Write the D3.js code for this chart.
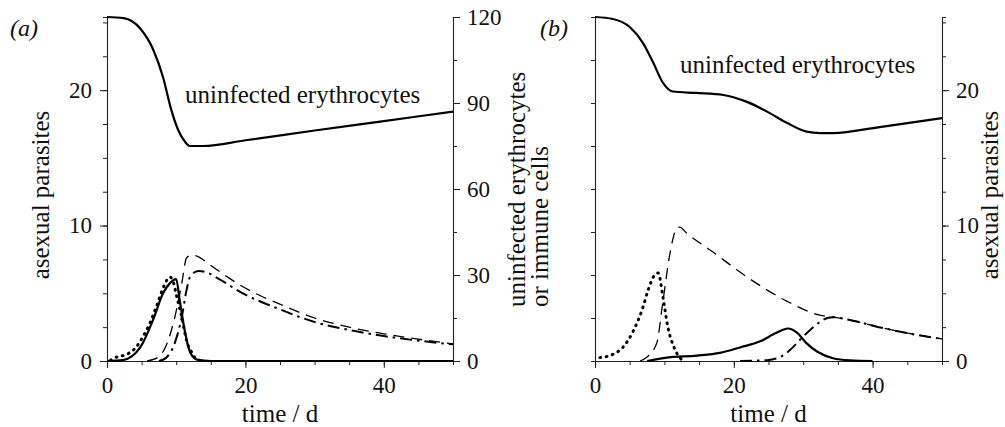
<!DOCTYPE html>
<html>
<head>
<meta charset="utf-8">
<style>
  body { margin: 0; background: #fff; }
</style>
</head>
<body>
<div id="chart"></div>
<script src="https://d3js.org/d3.v7.min.js"></script>
<script>
// panel (a) data: time in days
const aEryT   = [0, 2.4, 4.8, 6.7, 8.1, 9.3, 10.3, 11.3, 12, 13.9, 20, 30, 40, 50];
const aEry    = [120, 119.6, 116, 108.5, 99, 87.5, 80.5, 76.4, 75, 75, 77, 80.4, 83.7, 87];
const aSolidT = [0, 2.3, 4.8, 6.7, 8.1, 9.1, 10, 10.5, 11.3, 12, 13, 15, 50];
const aSolid  = [0, 0.07, 1.0, 3.1, 5.0, 5.75, 6.05, 4.5, 2.07, 0.66, 0.1, 0, 0];
const aDotT   = [0.5, 1.2, 2.9, 4, 5.2, 6.2, 7.2, 8.2, 9.1, 9.6, 10.1, 10.8, 11.5, 12.3, 13, 14];
const aDot    = [0.05, 0.25, 0.5, 0.9, 1.8, 2.8, 4.1, 5.5, 6.2, 5.8, 4.7, 3.25, 1.5, 0.6, 0.1, 0];
const aDashT  = [5.8, 7.5, 8.7, 9.8, 10.8, 11.5, 12.3, 13, 14.9, 17, 19.2, 22.4, 25.3, 30, 35, 40, 45, 50];
const aDash   = [0, 1.5, 6.3, 15.3, 27, 36, 37, 36.6, 33.5, 30, 26.5, 22.5, 19.5, 15, 11.8, 9.5, 7.6, 6];
const aDdT    = [7.5, 8.5, 9.8, 10.8, 11.5, 12, 13.2, 14.5, 15.9, 19.7, 24.5, 30, 35, 40, 45, 50];
const aDd     = [0, 1, 6.3, 15.3, 24.8, 29.3, 31.4, 30.8, 29, 23.5, 18.5, 13.6, 10.8, 8.7, 7.1, 5.8];

// panel (b) data
const bEryT   = [0, 2.6, 5, 6.9, 8.4, 9.8, 11.2, 14.6, 18.5, 21.9, 24.8, 27.7, 30.5, 32.4, 34.3, 41, 50];
const bEry    = [120, 119.3, 116.5, 111, 104, 97, 94, 93.5, 92.8, 90.4, 87, 83, 80, 79.5, 79.5, 81.6, 84.7];
const bDotT   = [0.7, 2.6, 4, 5.5, 6.8, 7.7, 8.4, 9.1, 9.8, 10.5, 11.4, 12.2, 13];
const bDot    = [0.25, 0.5, 1.0, 2.2, 3.8, 5.3, 6.2, 6.5, 4.7, 2.5, 1.0, 0.25, 0];
const bDashT  = [6.5, 7.5, 8.9, 9.8, 10.8, 11.8, 12.2, 13.2, 17, 21.9, 27.7, 32.4, 34.3, 36.7, 41.5, 46.4, 50];
const bDash   = [0, 1.4, 6.3, 21, 37.5, 46.4, 46.7, 44.6, 38, 29.3, 20.8, 16, 15.3, 14.3, 11.5, 9.1, 7.7];
const bSolidT = [7.5, 10.4, 14.7, 18, 20.9, 23.8, 26.2, 27.8, 29.1, 30.5, 32, 34.3, 36.7, 40];
const bSolid  = [0, 0.25, 0.4, 0.6, 1.0, 1.45, 2.1, 2.4, 2.1, 1.3, 0.7, 0.2, 0.05, 0];
const bDdT    = [20.9, 24.8, 26.7, 28.1, 29.5, 31, 32.4, 33.6, 34.3, 36.7, 41.5, 46.4, 50];
const bDd     = [0, 0.3, 1.4, 3.8, 7.3, 10.8, 13.6, 15.1, 15.3, 14.3, 11.5, 9.1, 7.7];

// ticks
const timeTicks = [0, 20, 40];
const timeMinor = [0, 5, 10, 15, 20, 25, 30, 35, 40, 45, 50];
const parTicks  = [0, 10, 20];
const parMinor  = [0, 2.5, 5, 7.5, 10, 12.5, 15, 17.5, 20, 22.5, 25];
const cellTicks = [0, 30, 60, 90, 120];
const cellMinor = [0, 15, 30, 45, 60, 75, 90, 105, 120];

const FONT = '"Liberation Serif", "Times New Roman", Times, "DejaVu Serif", serif';
const W = 1005, H = 427;
const svg = d3.select('#chart').append('svg').attr('width', W).attr('height', H);

const yTop = 17, yBot = 361;
const yPar  = d3.scaleLinear().domain([0, 25.4]).range([yBot, yTop]);
const yCell = d3.scaleLinear().domain([0, 120]).range([yBot, yTop]);

const styles = {
  solid:  { w: 2.2, dash: null, cap: 'butt' },
  dot:    { w: 3, dash: '0.8,5.6', cap: 'round' },
  dash:   { w: 1.3, dash: '11,7', cap: 'butt' },
  dd:     { w: 2.0, dash: '12,5,2.5,5', cap: 'butt' }
};

function zip(t, v) { return t.map((d, i) => [d, v[i]]); }

function drawLine(g, x, y, t, v, st) {
  const line = d3.line().x(d => x(d[0])).y(d => y(d[1])).curve(d3.curveMonotoneX);
  g.append('path').datum(zip(t, v))
    .attr('d', line)
    .attr('fill', 'none')
    .attr('stroke', '#000')
    .attr('stroke-width', st.w)
    .attr('stroke-dasharray', st.dash)
    .attr('stroke-linecap', st.cap)
    .attr('stroke-linejoin', 'round');
}

function axisPair(g, axisFn, scale, minor, major, fmt, pad) {
  const gm = g.append('g').call(axisFn(scale).tickValues(minor).tickSize(4).tickFormat(''));
  const gM = g.append('g').call(axisFn(scale).tickValues(major).tickSize(7).tickPadding(pad).tickFormat(fmt));
  gM.select('.domain').remove();
  [gm, gM].forEach(s => {
    s.attr('font-family', null);
    s.select('.domain').attr('stroke', '#222').attr('stroke-width', 1.1);
    s.selectAll('.tick line').attr('stroke', '#222').attr('stroke-width', 1);
    s.selectAll('.tick text').style('font-size', '23px').attr('fill', '#111');
  });
}

function panel(x0, x1) {
  const x = d3.scaleLinear().domain([0, 50]).range([x0, x1]);
  const g = svg.append('g');
  const gx = g.append('g').attr('transform', `translate(0,${yBot})`);
  axisPair(gx, d3.axisBottom, x, timeMinor, timeTicks, d3.format('d'), 9);
  g.append('text').attr('x', (x0 + x1) / 2).attr('y', 422)
    .attr('text-anchor', 'middle').style('font-size', '25px').text('time / d');
  return { x, g };
}

// ---- panel (a)
const pa = panel(107, 453);
axisPair(pa.g.append('g').attr('transform', 'translate(107,0)'), d3.axisLeft, yPar, parMinor, parTicks, d3.format('d'), 8);
axisPair(pa.g.append('g').attr('transform', 'translate(453,0)'), d3.axisRight, yCell, cellMinor, cellTicks, d3.format('d'), 7);

drawLine(pa.g, pa.x, yCell, aEryT, aEry, styles.solid);
drawLine(pa.g, pa.x, yPar, aDotT, aDot, styles.dot);
drawLine(pa.g, pa.x, yPar, aSolidT, aSolid, styles.solid);
drawLine(pa.g, pa.x, yCell, aDashT, aDash, styles.dash);
drawLine(pa.g, pa.x, yCell, aDdT, aDd, styles.dd);

pa.g.append('text').attr('x', 185).attr('y', 103).style('font-size', '25px').text('uninfected erythrocytes');
svg.append('text').attr('x', 10).attr('y', 36).style('font-size', '24px').style('font-style', 'italic').text('(a)');
svg.append('text').attr('transform', 'translate(49,195) rotate(-90)').attr('text-anchor', 'middle')
  .style('font-size', '25px').text('asexual parasites');
svg.append('text').attr('transform', 'translate(525,307) rotate(-90)')
  .style('font-size', '25px').text('uninfected erythrocytes');
svg.append('text').attr('transform', 'translate(548,307) rotate(-90)')
  .style('font-size', '25px').text('or immune cells');

// ---- panel (b)
const pb = panel(595, 942);
axisPair(pb.g.append('g').attr('transform', 'translate(595,0)'), d3.axisLeft, yCell, cellMinor, [], '', 8);
axisPair(pb.g.append('g').attr('transform', 'translate(942,0)'), d3.axisRight, yPar, parMinor, parTicks, d3.format('d'), 7);

drawLine(pb.g, pb.x, yCell, bEryT, bEry, styles.solid);
drawLine(pb.g, pb.x, yPar, bDotT, bDot, styles.dot);
drawLine(pb.g, pb.x, yCell, bDashT, bDash, styles.dash);
drawLine(pb.g, pb.x, yPar, bSolidT, bSolid, styles.solid);
drawLine(pb.g, pb.x, yCell, bDdT, bDd, styles.dd);

pb.g.append('text').attr('x', 680).attr('y', 73).style('font-size', '25px').text('uninfected erythrocytes');
svg.append('text').attr('x', 540).attr('y', 36).style('font-size', '24px').style('font-style', 'italic').text('(b)');
svg.append('text').attr('transform', 'translate(998,195) rotate(-90)').attr('text-anchor', 'middle')
  .style('font-size', '25px').text('asexual parasites');

// serif everywhere
svg.selectAll('text').style('font-family', FONT).attr('fill', '#111');
</script>
</body>
</html>
